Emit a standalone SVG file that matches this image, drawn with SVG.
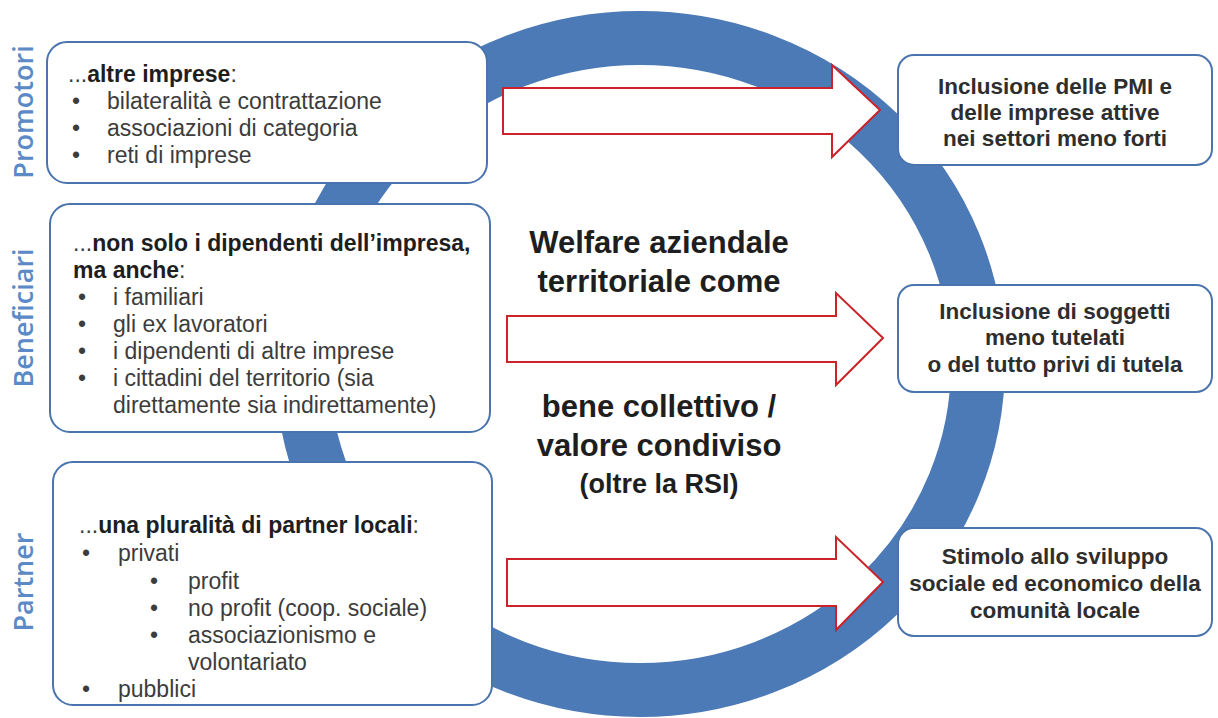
<svg xmlns="http://www.w3.org/2000/svg" width="1218" height="718" viewBox="0 0 1218 718">
<style>
.box{fill:#fff;stroke:#4a74ad;stroke-width:2}
.arr{fill:#fff;stroke:#cc2229;stroke-width:2;stroke-linejoin:miter}
.t{font-family:"Liberation Sans",Arial,sans-serif;font-size:23px;fill:#3c3c3c}
.b{font-weight:700;fill:#1e1e1e}
.r{font-family:"Liberation Sans",Arial,sans-serif;font-size:22.5px;font-weight:700;fill:#2e2e2e;text-anchor:middle}
.c{font-family:"Liberation Sans",Arial,sans-serif;font-size:31px;font-weight:700;fill:#1e1e1e;text-anchor:middle}
.lab{font-family:"Open Sans","Liberation Sans",sans-serif;font-size:27px;font-weight:600;fill:#5b8ac6;text-anchor:middle}
</style>
<rect width="1218" height="718" fill="#fff"/>
<g id="ring">
<ellipse cx="640" cy="364" rx="338" ry="326" fill="none" stroke="#4c7ab6" stroke-width="54"/>
</g>
<g id="center-text">
<text class="c" x="659" y="253">Welfare aziendale</text>
<text class="c" x="659" y="292">territoriale come</text>
<text class="c" x="659" y="417">bene collettivo /</text>
<text class="c" x="659" y="456">valore condiviso</text>
<text class="c" x="659" y="493" style="font-size:27px">(oltre la RSI)</text>
</g>
<g id="promotori">
<text class="lab" transform="translate(33,112) rotate(-90)">Promotori</text>
<rect class="box" x="47" y="42" width="440" height="141" rx="20"/>
<text class="t" x="68" y="82">...<tspan class="b">altre imprese</tspan>:</text>
<text class="t" x="72" y="109">•</text><text class="t" x="107" y="109">bilateralità e contrattazione</text>
<text class="t" x="72" y="136">•</text><text class="t" x="107" y="136">associazioni di categoria</text>
<text class="t" x="72" y="163">•</text><text class="t" x="107" y="163">reti di imprese</text>
</g>
<g id="beneficiari">
<text class="lab" transform="translate(33,318) rotate(-90)">Beneficiari</text>
<rect class="box" x="50" y="204" width="440" height="228" rx="20"/>
<text class="t" x="73" y="251">...<tspan class="b">non solo i dipendenti dell’impresa,</tspan></text>
<text class="t b" x="73" y="278">ma anche<tspan style="font-weight:400;fill:#3c3c3c">:</tspan></text>
<text class="t" x="78" y="305">•</text><text class="t" x="113" y="305">i familiari</text>
<text class="t" x="78" y="332">•</text><text class="t" x="113" y="332">gli ex lavoratori</text>
<text class="t" x="78" y="359">•</text><text class="t" x="113" y="359">i dipendenti di altre imprese</text>
<text class="t" x="78" y="386">•</text><text class="t" x="113" y="386">i cittadini del territorio (sia</text>
<text class="t" x="113" y="413">direttamente sia indirettamente)</text>
</g>
<g id="partner">
<text class="lab" transform="translate(33,582) rotate(-90)">Partner</text>
<rect class="box" x="53" y="462" width="439" height="243" rx="20"/>
<text class="t" x="79" y="533">...<tspan class="b">una pluralità di partner locali</tspan>:</text>
<text class="t" x="82" y="561">•</text><text class="t" x="118" y="561">privati</text>
<text class="t" x="150" y="589">•</text><text class="t" x="188" y="589">profit</text>
<text class="t" x="150" y="616">•</text><text class="t" x="188" y="616">no profit (coop. sociale)</text>
<text class="t" x="150" y="643">•</text><text class="t" x="188" y="643">associazionismo e</text>
<text class="t" x="188" y="670">volontariato</text>
<text class="t" x="82" y="697">•</text><text class="t" x="118" y="697">pubblici</text>
</g>
<g id="connectors">
<path class="arr" d="M503,88 H832 V65 L880,110 L832,157 V134 H503 Z"/>
<path class="arr" d="M507,316 H836 V293 L883,338 L836,385 V362 H507 Z"/>
<path class="arr" d="M507,559 H836 V537 L883,582 L836,630 V606 H507 Z"/>
</g>
<g id="out1">
<rect class="box" x="898" y="55" width="314" height="110" rx="16"/>
<text class="r" x="1055" y="94">Inclusione delle PMI e</text>
<text class="r" x="1055" y="120">delle imprese attive</text>
<text class="r" x="1055" y="146">nei settori meno forti</text>
</g>
<g id="out2">
<rect class="box" x="898" y="285" width="314" height="107" rx="16"/>
<text class="r" x="1055" y="319">Inclusione di soggetti</text>
<text class="r" x="1055" y="345">meno tutelati</text>
<text class="r" x="1055" y="372">o del tutto privi di tutela</text>
</g>
<g id="out3">
<rect class="box" x="898" y="528" width="314" height="108" rx="16"/>
<text class="r" x="1055" y="564">Stimolo allo sviluppo</text>
<text class="r" x="1055" y="591">sociale ed economico della</text>
<text class="r" x="1055" y="618">comunità locale</text>
</g>
</svg>
